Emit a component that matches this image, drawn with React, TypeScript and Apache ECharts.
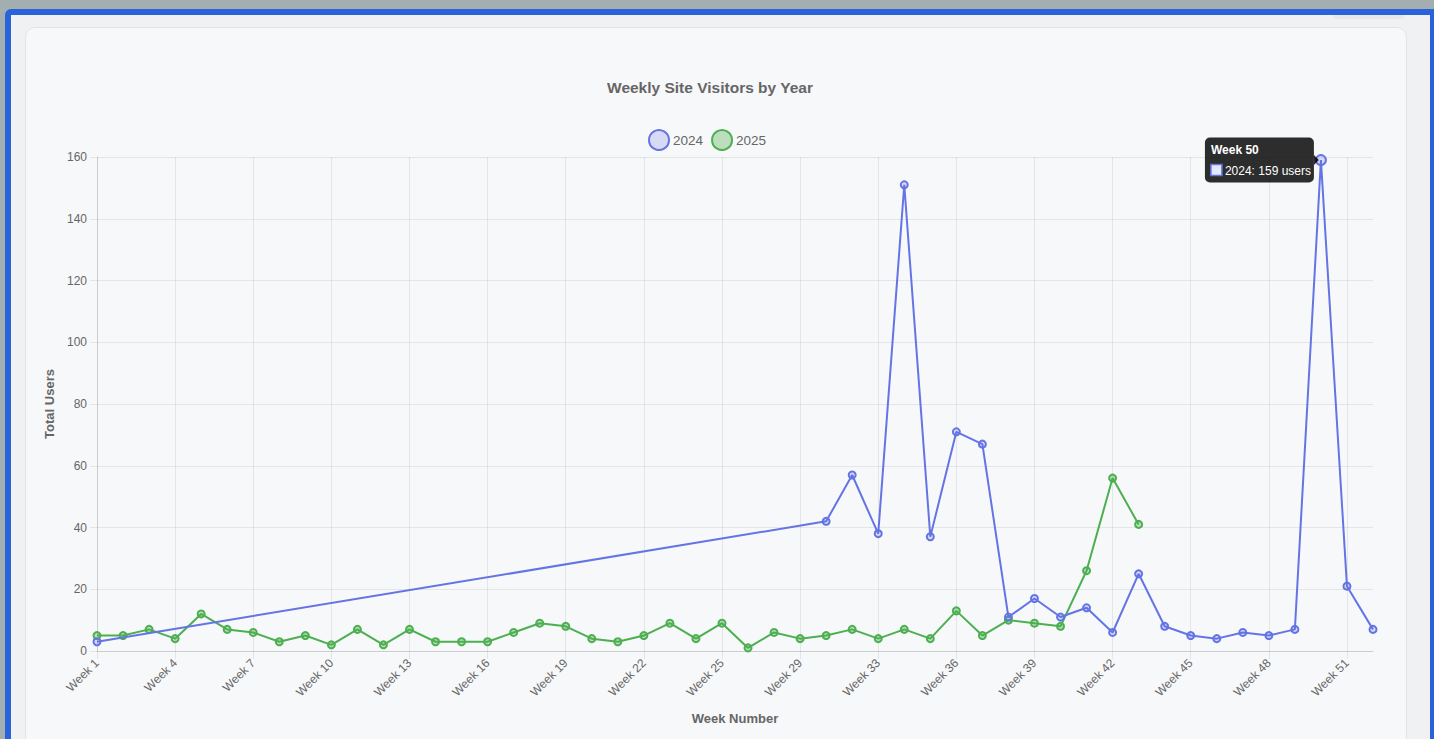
import React, { useEffect, useRef } from "react";
import * as echarts from "echarts";

// Week numbers present on the category axis (union of both years)
const weekNumbers = [
  1, 2, 3, 4, 5, 6, 7, 8, 9, 10, 11, 12, 13, 14, 15, 16, 17, 18, 19, 20, 21, 22, 23, 24, 25, 26,
  27, 29, 31, 32,
  33, 34, 35, 36, 37, 38, 39, 40, 41, 42, 43, 44, 45, 46, 47, 48, 49, 50, 51, 52,
];
const categories = weekNumbers.map((n) => `Week ${n}`);

const visitors2024: (number | null)[] = [
  3, null, null, null, null, null, null, null, null, null, null, null, null, null, null, null,
  null, null, null, null, null, null, null, null, null, null, null, null,
  42, 57, 38, 151, 37, 71, 67, 11, 17, 11, 14, 6, 25, 8, 5, 4, 6, 5, 7, 159, 21, 7,
];

const visitors2025: number[] = [
  5, 5, 7, 4, 12, 7, 6, 3, 5, 2, 7, 2, 7, 3, 3, 3, 6, 9, 8, 4, 3, 5, 9, 4, 9, 1, 6, 4, 5, 7, 4,
  7, 4, 13, 5, 10, 9, 8, 26, 56, 41,
];

const seriesNames = ["2024", "2025"];
const yMin = 0;
const yMax = 160;
const yInterval = 20;
const tooltipIndex = 47;

const BLUE = "#6474e5";
const BLUE_FILL = "rgba(100,116,229,0.22)";
const GREEN = "#4caf50";
const GREEN_FILL = "rgba(76,175,80,0.35)";
const FONT = "'Liberation Sans', Arial, Helvetica, sans-serif";
const GRID = "rgba(0,0,0,0.075)";

export default function App() {
  const ref = useRef<HTMLDivElement | null>(null);

  useEffect(() => {
    if (!ref.current) return;
    const chart = echarts.init(ref.current, undefined, { renderer: "svg" });
    chart.setOption({
      animation: false,
      textStyle: { fontFamily: FONT },
      title: {
        text: "Weekly Site Visitors by Year",
        left: 680,
        textAlign: "center",
        top: 47,
        textStyle: { fontSize: 15.5, fontWeight: "bold", color: "#666", fontFamily: FONT },
      },
      legend: {
        data: seriesNames,
        left: 618,
        top: 97,
        icon: "circle",
        itemWidth: 20,
        itemHeight: 20,
        itemGap: 8,
        textStyle: { fontSize: 13.5, color: "#666", fontFamily: FONT, padding: [0, 0, 0, -1] },
      },
      grid: { left: 72, right: 33, top: 130, bottom: 88, containLabel: false },
      xAxis: {
        type: "category",
        data: categories,
        boundaryGap: false,
        name: "Week Number",
        nameLocation: "middle",
        nameGap: 61,
        nameTextStyle: { fontSize: 13, fontWeight: "bold", color: "#666", fontFamily: FONT },
        axisLine: { show: true, lineStyle: { color: "rgba(0,0,0,0.1)", width: 1 } },
        axisTick: { show: true, interval: 2, length: 8, lineStyle: { color: GRID } },
        axisLabel: {
          interval: 2,
          rotate: 45,
          color: "#666",
          fontSize: 12,
          fontFamily: FONT,
          margin: 10,
        },
        splitLine: { show: true, interval: 2, lineStyle: { color: GRID, width: 1 } },
      },
      yAxis: {
        type: "value",
        min: yMin,
        max: yMax,
        interval: yInterval,
        name: "Total Users",
        nameLocation: "middle",
        nameRotate: 90,
        nameGap: 39,
        nameTextStyle: { fontSize: 13, fontWeight: "bold", color: "#666", fontFamily: FONT },
        axisLine: { show: true, lineStyle: { color: "rgba(0,0,0,0.1)", width: 1 } },
        axisTick: { show: true, length: 7, lineStyle: { color: GRID } },
        axisLabel: { color: "#666", fontSize: 12, fontFamily: FONT, margin: 10 },
        splitLine: { show: true, lineStyle: { color: GRID, width: 1 } },
      },
      series: [
        {
          name: seriesNames[0],
          type: "line",
          connectNulls: true,
          data: visitors2024.map((v, i) =>
            i === tooltipIndex ? { value: v, symbolSize: 10 } : v
          ),
          symbol: "circle",
          symbolSize: 7,
          lineStyle: { color: BLUE, width: 2 },
          itemStyle: { color: BLUE_FILL, borderColor: BLUE, borderWidth: 2 },
          z: 3,
        },
        {
          name: seriesNames[1],
          type: "line",
          data: visitors2025,
          symbol: "circle",
          symbolSize: 7,
          lineStyle: { color: GREEN, width: 2 },
          itemStyle: { color: GREEN_FILL, borderColor: GREEN, borderWidth: 2 },
          z: 2,
        },
      ],
    });

    const val = visitors2024[tooltipIndex] as number;
    const pt = chart.convertToPixel({ xAxisIndex: 0, yAxisIndex: 0 }, [tooltipIndex, val]) as number[];
    const px = pt[0];
    const py = pt[1];
    const boxW = 109;
    const boxH = 45;
    const right = px - 7;
    const left = right - boxW;
    const top = py - boxH / 2;
    const tipFill = "rgba(0,0,0,0.82)";
    chart.setOption({
      graphic: [
        {
          type: "rect",
          z: 100,
          shape: { x: left, y: top, width: boxW, height: boxH, r: 5 },
          style: { fill: tipFill },
        },
        {
          type: "polygon",
          z: 100,
          shape: { points: [[right, py - 5], [right + 5, py], [right, py + 5]] },
          style: { fill: tipFill },
        },
        {
          type: "text",
          z: 101,
          x: left + 6,
          y: top + 12,
          style: {
            text: categories[tooltipIndex],
            fill: "#fff",
            fontSize: 12,
            fontWeight: "bold",
            fontFamily: FONT,
            verticalAlign: "middle",
          },
        },
        {
          type: "rect",
          z: 101,
          shape: { x: left + 6, y: top + 27, width: 11, height: 11 },
          style: { fill: "#e4e8fb", stroke: BLUE, lineWidth: 1.5 },
        },
        {
          type: "text",
          z: 101,
          x: left + 20,
          y: top + 33,
          style: {
            text: `${seriesNames[0]}: ${val} users`,
            fill: "#fff",
            fontSize: 12,
            fontFamily: FONT,
            verticalAlign: "middle",
          },
        },
      ],
    });

    return () => chart.dispose();
  }, []);

  return (
    <div
      style={{
        position: "fixed",
        left: 0,
        top: 0,
        width: 1434,
        height: 739,
        background: "#a3aeb0",
        overflow: "hidden",
      }}
    >
      <div
        style={{
          position: "absolute",
          left: 5,
          top: 9,
          width: 1440,
          height: 760,
          background: "#2962d9",
          borderTopLeftRadius: 6,
        }}
      />
      <div
        style={{
          position: "absolute",
          left: 11,
          top: 15,
          width: 1419,
          height: 760,
          background: "#f0f1f3",
        }}
      />
      <div
        style={{
          position: "absolute",
          left: 1333,
          top: 15,
          width: 72,
          height: 4,
          background: "#e6e8eb",
          borderBottomLeftRadius: 4,
          borderBottomRightRadius: 4,
        }}
      />
      <div
        style={{
          position: "absolute",
          left: 25,
          top: 27,
          width: 1380,
          height: 760,
          background: "#f7f8fa",
          border: "1px solid #e2e4e8",
          borderRadius: 10,
        }}
      />
      <div
        ref={ref}
        style={{ position: "absolute", left: 25, top: 27, width: 1381, height: 712 }}
      />
    </div>
  );
}
